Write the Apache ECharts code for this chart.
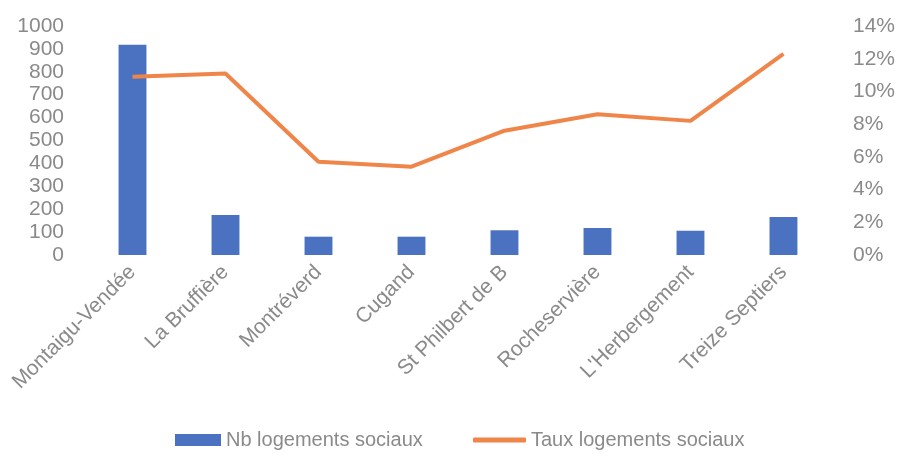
<!DOCTYPE html>
<html>
<head>
<meta charset="utf-8">
<script src="https://cdn.jsdelivr.net/npm/echarts@6/dist/echarts.min.js"></script>
<style>
  html, body { margin: 0; padding: 0; background: #fff; }
  #chart { width: 898px; height: 459px; }
</style>
</head>
<body>
<div id="chart"></div>
<script>
// communes
var communes = ['Montaigu-Vendée', 'La Bruffière', 'Montréverd', 'Cugand', 'St Philbert de B', 'Rocheservière', "L'Herbergement", 'Treize Septiers'];
// nombre de logements sociaux
var nbLogements = [918, 175, 80, 80, 108, 118, 106, 166];
// taux de logements sociaux
var tauxLogements = [0.109, 0.111, 0.057, 0.054, 0.076, 0.086, 0.082, 0.123];

var grisTexte = '#8a8a8a';
var police = 'Liberation Sans';
var bleu = '#4a72c0';
var orange = '#f0854a';

var myChart = echarts.init(document.getElementById('chart'));

var option = {
    animation: false,
    textStyle: { fontFamily: police },
    grid: { left: 86, right: 63, top: 26, bottom: 204 },
    legend: [
        {
            left: 170,
            bottom: 4,
            itemWidth: 46,
            itemHeight: 12,
            itemGap: 4,
            textStyle: { color: grisTexte, fontSize: 20, fontFamily: police },
            data: [{ name: 'Nb logements sociaux', icon: 'rect' }]
        },
        {
            left: 468,
            bottom: 4,
            itemWidth: 53,
            itemHeight: 5,
            textStyle: { color: grisTexte, fontSize: 20, fontFamily: police },
            data: [{ name: 'Taux logements sociaux', icon: 'roundRect' }]
        }
    ],
    xAxis: {
        type: 'category',
        data: communes,
        axisLine: { show: false },
        axisTick: { show: false },
        axisLabel: {
            rotate: 45,
            color: grisTexte,
            fontSize: 21,
            margin: 14,
            interval: 0
        }
    },
    yAxis: [
        {
            type: 'value',
            min: 0,
            max: 1000,
            interval: 100,
            splitLine: { show: false },
            axisLine: { show: false },
            axisTick: { show: false },
            axisLabel: {
                color: grisTexte,
                fontSize: 21,
                margin: 22,
                formatter: function (v) { return String(v); }
            }
        },
        {
            type: 'value',
            min: 0,
            max: 0.14,
            interval: 0.02,
            position: 'right',
            splitLine: { show: false },
            axisLine: { show: false },
            axisTick: { show: false },
            axisLabel: {
                color: grisTexte,
                fontSize: 21,
                margin: 23,
                formatter: function (v) { return Math.round(v * 100) + '%'; }
            }
        }
    ],
    series: [
        {
            name: 'Nb logements sociaux',
            type: 'bar',
            data: nbLogements,
            barWidth: '30%',
            itemStyle: { color: bleu }
        },
        {
            name: 'Taux logements sociaux',
            type: 'line',
            yAxisIndex: 1,
            data: tauxLogements,
            symbol: 'none',
            lineStyle: { color: orange, width: 4 },
            itemStyle: { color: orange }
        }
    ]
};

myChart.setOption(option);
</script>
</body>
</html>
